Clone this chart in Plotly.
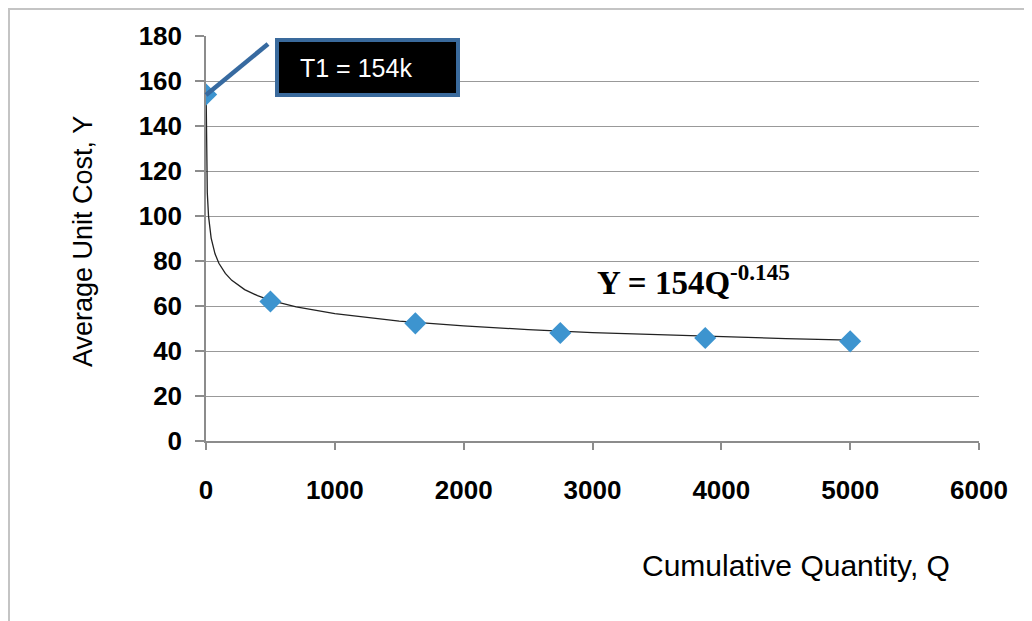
import plotly.graph_objects as go

# Observed data points
q_points = [1, 500, 1625, 2750, 3875, 5000]
y_points = [154, 62, 52.3, 48, 45.8, 44.3]

# Trend line
q_trend = [1, 5, 10, 20, 40, 70, 100, 150, 200, 300, 400, 500, 700, 1000,
           1500, 2000, 2500, 3000, 3500, 4000, 4500, 5000]
y_trend = [154, 121.9, 110.3, 99.7, 90.2, 83.2, 79.0, 74.5, 71.4, 67.3, 64.6,
           62.5, 59.6, 56.6, 53.3, 51.2, 49.5, 48.2, 47.2, 46.3, 45.5, 44.8]

x_ticks = [0, 1000, 2000, 3000, 4000, 5000, 6000]
y_ticks = [0, 20, 40, 60, 80, 100, 120, 140, 160, 180]

# page geometry (page offset of 8px from body margin)
OFF = 8
W, H = 1032 - OFF, 621 - OFF
L, R, T, B = 206, 979, 36, 441  # plot area in page pixels


def px(xp):
    return (xp - L) / (R - L)


def py(yp):
    return (B - yp) / (B - T)


fig = go.Figure()
fig.add_trace(go.Scatter(x=q_trend, y=y_trend, mode="lines",
                         line=dict(color="#222222", width=1.3),
                         showlegend=False, hoverinfo="skip"))
fig.add_trace(go.Scatter(x=q_points, y=y_points, mode="markers",
                         marker=dict(symbol="diamond", size=17, color="#3D94CF"),
                         showlegend=False))

tick_font = dict(family="Liberation Sans, Arial", size=26, color="black", weight="bold")

fig.update_layout(
    width=W, height=H,
    margin=dict(l=L - OFF, r=W - (R - OFF), t=T - OFF, b=H - (B - OFF), pad=0),
    paper_bgcolor="white", plot_bgcolor="white",
    xaxis=dict(range=[0, 6000], tickvals=x_ticks, ticktext=[str(v) for v in x_ticks],
               tickfont=tick_font, showgrid=False, zeroline=False,
               showline=True, linecolor="#8c8c8c", linewidth=1.5,
               ticks="outside", ticklen=7, tickcolor="#8c8c8c", tickwidth=1.5,
               ticklabelstandoff=18),
    yaxis=dict(range=[0, 180], tickvals=y_ticks, ticktext=[str(v) for v in y_ticks],
               tickfont=tick_font, showgrid=True, gridcolor="#999999", gridwidth=1.3,
               zeroline=False, showline=True, linecolor="#8c8c8c", linewidth=1.5,
               ticks="outside", ticklen=9, tickcolor="#8c8c8c", tickwidth=1.5,
               ticklabelstandoff=8),
    shapes=[
        dict(type="rect", xref="paper", yref="paper",
             x0=px(9), x1=px(1045), y0=py(640), y1=py(9),
             line=dict(color="#c4c4c4", width=2), fillcolor="rgba(0,0,0,0)", layer="above"),
        dict(type="line", xref="paper", yref="paper",
             x0=px(206), y0=py(95), x1=px(268), y1=py(44),
             line=dict(color="#376aa0", width=4.5)),
        dict(type="rect", xref="paper", yref="paper",
             x0=px(277), x1=px(458), y0=py(95), y1=py(40),
             line=dict(color="#3a6a9c", width=4), fillcolor="black"),
    ],
    annotations=[
        dict(xref="paper", yref="paper", x=px(356), y=py(68), text="T1 = 154k",
             xanchor="center", yanchor="middle", showarrow=False,
             font=dict(family="Liberation Sans, Arial", size=25, color="white")),
        dict(xref="paper", yref="paper", x=px(693), y=py(280),
             text="<b>Y = 154Q<sup>-0.145</sup></b>", showarrow=False,
             xanchor="center", yanchor="middle",
             font=dict(family="Liberation Serif, Times New Roman", size=33, color="black")),
        dict(xref="paper", yref="paper", x=px(83), y=py(241),
             text="Average Unit Cost, Y", textangle=-90, showarrow=False,
             xanchor="center", yanchor="middle",
             font=dict(family="Liberation Sans, Arial", size=27, color="black")),
        dict(xref="paper", yref="paper", x=px(796), y=py(565),
             text="Cumulative Quantity, Q", showarrow=False,
             xanchor="center", yanchor="middle",
             font=dict(family="Liberation Sans, Arial", size=30, color="black")),
    ],
)

fig.write_html("out.html")
